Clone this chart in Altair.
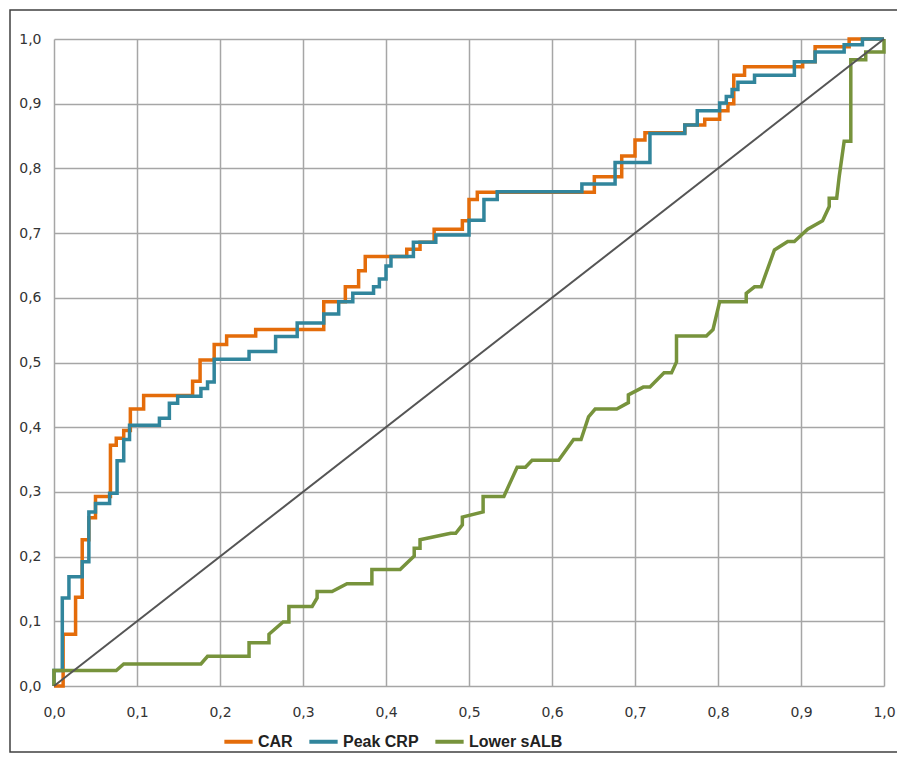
import altair as alt
import pandas as pd

# CAR (orange) ROC vertices
car_fpr = [0, 0.011, 0.011, 0.026, 0.026, 0.034, 0.034, 0.042, 0.042, 0.050, 0.050, 0.068, 0.068, 0.075, 0.075,
           0.084, 0.084, 0.092, 0.092, 0.108, 0.108, 0.167, 0.167, 0.176, 0.176, 0.193, 0.193, 0.208, 0.208,
           0.243, 0.243, 0.325, 0.325, 0.351, 0.351, 0.367, 0.367, 0.375, 0.375, 0.425, 0.425, 0.441, 0.441,
           0.458, 0.458, 0.492, 0.492, 0.500, 0.500, 0.510, 0.510, 0.651, 0.651, 0.684, 0.684, 0.700, 0.700,
           0.712, 0.712, 0.760, 0.760, 0.784, 0.784, 0.802, 0.802, 0.812, 0.812, 0.819, 0.819, 0.832, 0.832,
           0.902, 0.902, 0.917, 0.917, 0.958, 0.958, 1.0]
car_tpr = [0, 0, 0.080, 0.080, 0.137, 0.137, 0.226, 0.226, 0.260, 0.260, 0.293, 0.293, 0.372, 0.372, 0.383,
           0.383, 0.395, 0.395, 0.428, 0.428, 0.449, 0.449, 0.471, 0.471, 0.504, 0.504, 0.528, 0.528, 0.541,
           0.541, 0.551, 0.551, 0.594, 0.594, 0.617, 0.617, 0.642, 0.642, 0.664, 0.664, 0.675, 0.675, 0.686,
           0.686, 0.706, 0.706, 0.719, 0.719, 0.752, 0.752, 0.763, 0.763, 0.787, 0.787, 0.819, 0.819, 0.844,
           0.844, 0.855, 0.855, 0.867, 0.867, 0.876, 0.876, 0.889, 0.889, 0.900, 0.900, 0.944, 0.944, 0.957,
           0.957, 0.965, 0.965, 0.988, 0.988, 1.0, 1.0]

# Peak CRP (blue) ROC vertices
crp_fpr = [0, 0, 0.010, 0.010, 0.018, 0.018, 0.034, 0.034, 0.042, 0.042, 0.050, 0.050, 0.067, 0.067, 0.076,
           0.076, 0.084, 0.084, 0.091, 0.091, 0.127, 0.127, 0.139, 0.139, 0.149, 0.149, 0.177, 0.177, 0.185,
           0.185, 0.193, 0.193, 0.235, 0.235, 0.267, 0.267, 0.293, 0.293, 0.325, 0.325, 0.343, 0.343, 0.360,
           0.360, 0.385, 0.385, 0.392, 0.392, 0.400, 0.400, 0.406, 0.406, 0.433, 0.433, 0.460, 0.460, 0.500,
           0.500, 0.518, 0.518, 0.534, 0.534, 0.636, 0.636, 0.676, 0.676, 0.718, 0.718, 0.760, 0.760, 0.775,
           0.775, 0.802, 0.802, 0.810, 0.810, 0.817, 0.817, 0.824, 0.824, 0.844, 0.844, 0.892, 0.892, 0.917,
           0.917, 0.952, 0.952, 0.974, 0.974, 1.0]
crp_tpr = [0, 0.024, 0.024, 0.136, 0.136, 0.169, 0.169, 0.192, 0.192, 0.269, 0.269, 0.282, 0.282, 0.298, 0.298,
           0.348, 0.348, 0.381, 0.381, 0.403, 0.403, 0.414, 0.414, 0.437, 0.437, 0.448, 0.448, 0.460, 0.460,
           0.470, 0.470, 0.505, 0.505, 0.517, 0.517, 0.540, 0.540, 0.561, 0.561, 0.575, 0.575, 0.594, 0.594,
           0.607, 0.607, 0.617, 0.617, 0.629, 0.629, 0.649, 0.649, 0.664, 0.664, 0.686, 0.686, 0.697, 0.697,
           0.720, 0.720, 0.752, 0.752, 0.764, 0.764, 0.776, 0.776, 0.809, 0.809, 0.854, 0.854, 0.867, 0.867,
           0.889, 0.889, 0.901, 0.901, 0.911, 0.911, 0.922, 0.922, 0.933, 0.933, 0.944, 0.944, 0.965, 0.965,
           0.980, 0.980, 0.991, 0.991, 1.0, 1.0]

# Lower sALB (green) ROC vertices
alb_fpr = [0, 0, 0.075, 0.084, 0.177, 0.185, 0.235, 0.235, 0.259, 0.259, 0.276, 0.283, 0.283, 0.311, 0.317,
           0.317, 0.335, 0.353, 0.383, 0.383, 0.417, 0.434, 0.434, 0.441, 0.441, 0.478, 0.484, 0.492, 0.492,
           0.517, 0.517, 0.542, 0.558, 0.568, 0.576, 0.608, 0.626, 0.635, 0.644, 0.652, 0.678, 0.692, 0.692,
           0.710, 0.718, 0.735, 0.744, 0.750, 0.750, 0.786, 0.794, 0.802, 0.834, 0.834, 0.844, 0.852, 0.868,
           0.884, 0.892, 0.908, 0.926, 0.934, 0.934, 0.943, 0.946, 0.952, 0.960, 0.960, 0.978, 0.978, 1.0, 1.0]
alb_tpr = [0, 0.024, 0.024, 0.034, 0.034, 0.046, 0.046, 0.067, 0.067, 0.080, 0.099, 0.099, 0.123, 0.123, 0.136,
           0.146, 0.146, 0.158, 0.158, 0.180, 0.180, 0.201, 0.213, 0.213, 0.226, 0.236, 0.236, 0.249, 0.261,
           0.269, 0.293, 0.293, 0.338, 0.338, 0.349, 0.349, 0.381, 0.381, 0.416, 0.428, 0.428, 0.438, 0.450,
           0.462, 0.462, 0.484, 0.484, 0.501, 0.541, 0.541, 0.551, 0.594, 0.594, 0.607, 0.617, 0.617, 0.674,
           0.687, 0.687, 0.706, 0.719, 0.741, 0.754, 0.754, 0.787, 0.842, 0.842, 0.968, 0.968, 0.980, 0.980, 1.0]

series_names = ["CAR", "Peak CRP", "Lower sALB"]
series_colors = ["#E46C0A", "#31859C", "#77933C"]
ticks = [0.0, 0.1, 0.2, 0.3, 0.4, 0.5, 0.6, 0.7, 0.8, 0.9, 1.0]
diag_x = [0.0, 1.0]
diag_y = [0.0, 1.0]


def frame(name, xs, ys):
    return pd.DataFrame({"fpr": xs, "tpr": ys, "series": name, "idx": list(range(len(xs)))})


dfs = [frame(series_names[0], car_fpr, car_tpr),
       frame(series_names[1], crp_fpr, crp_tpr),
       frame(series_names[2], alb_fpr, alb_tpr)]

label_expr = "replace(format(datum.value, '.1f'), '.', ',')"

x_enc = alt.X("fpr:Q", scale=alt.Scale(domain=[0, 1], nice=False),
              axis=alt.Axis(values=ticks, title=None, labelExpr=label_expr, grid=True,
                            ticks=False, domain=False, labelPadding=19, labelFontSize=14,
                            labelFlush=False, labelBound=False, labelOverlap=False,
                            labelFont="DejaVu Sans", labelColor="#333333",
                            gridColor="#A6A6A6", gridWidth=1.5))
y_enc = alt.Y("tpr:Q", scale=alt.Scale(domain=[0, 1], nice=False),
              axis=alt.Axis(values=ticks, title=None, labelExpr=label_expr, grid=True,
                            ticks=False, domain=False, labelPadding=13, labelFontSize=14,
                            labelFlush=False, labelBound=False, labelOverlap=False,
                            labelFont="DejaVu Sans", labelColor="#333333",
                            gridColor="#A6A6A6", gridWidth=1.5))

color_enc = alt.Color("series:N",
                      scale=alt.Scale(domain=series_names, range=series_colors),
                      legend=alt.Legend(title=None, orient="none", direction="horizontal",
                                        legendX=168, legendY=686,
                                        symbolType="stroke", symbolStrokeWidth=4, symbolSize=800,
                                        labelFont="Liberation Sans Narrow, Arial Narrow, Liberation Sans",
                                        labelFontWeight="bold", labelFontSize=16, labelColor="#222222",
                                        columnPadding=8, labelOffset=3))

layers = []
for d in dfs:
    layers.append(
        alt.Chart(d).mark_line(strokeWidth=3.5, strokeJoin="miter").encode(
            x=x_enc, y=y_enc, color=color_enc, order="idx:Q")
    )

diag = alt.Chart(pd.DataFrame({"fpr": diag_x, "tpr": diag_y})).mark_line(
    color="#555555", strokeWidth=2).encode(x="fpr:Q", y="tpr:Q")

border = alt.Chart(pd.DataFrame({"a": [0]})).mark_rect(
    fillOpacity=0, stroke="#404040", strokeWidth=1.5).encode(
    x=alt.value(-44), x2=alt.value(900), y=alt.value(-29), y2=alt.value(713))

chart = alt.layer(*layers, diag, border).properties(
    width=830, height=647,
    autosize=alt.AutoSizeParams(type="none"),
    padding={"left": 46, "top": 31, "right": 13, "bottom": 68},
).configure_view(stroke=None)

chart.save("out.html", embed_options={"renderer": "svg", "actions": False})
